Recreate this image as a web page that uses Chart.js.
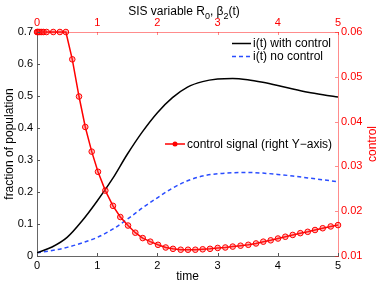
<!DOCTYPE html>
<html>
<head>
<meta charset="utf-8">
<script src="https://cdn.jsdelivr.net/npm/chart.js@4"></script>
<style>
  html, body { margin: 0; padding: 0; background: #fff; }
  #wrap { width: 382px; height: 286px; }
</style>
</head>
<body>
<div id="wrap"><canvas id="sisChart" width="382" height="286"></canvas></div>
<script>
// time grid for the two i(t) curves
const timeGrid = [0, 0.25, 0.5, 0.75, 1, 1.25, 1.5, 1.75, 2, 2.25, 2.5, 2.75, 3, 3.25, 3.5, 3.75, 4, 4.25, 4.5, 4.75, 5];
const withControl = [0.01, 0.028, 0.058, 0.11, 0.172, 0.24, 0.318, 0.388, 0.448, 0.495, 0.528, 0.545, 0.553, 0.555, 0.551, 0.543, 0.533, 0.522, 0.512, 0.504, 0.497];
const noControl = [0.01, 0.017, 0.027, 0.041, 0.058, 0.083, 0.115, 0.15, 0.182, 0.212, 0.235, 0.25, 0.257, 0.26, 0.261, 0.259, 0.255, 0.25, 0.244, 0.238, 0.232];

// control signal samples (right Y-axis)
const controlTime = [0, 0.01, 0.03, 0.05, 0.08, 0.11, 0.16, 0.27, 0.38, 0.48, 0.586, 0.698, 0.802, 0.909, 1.013, 1.135, 1.262, 1.384, 1.512, 1.633, 1.756, 1.882, 2.01, 2.138, 2.259, 2.387, 2.508, 2.63, 2.752, 2.874, 3.002, 3.128, 3.251, 3.381, 3.51, 3.638, 3.759, 3.882, 4.003, 4.125, 4.248, 4.374, 4.497, 4.618, 4.746, 4.879, 5];
const controlSignal = [0.06, 0.06, 0.06, 0.06, 0.06, 0.06, 0.06, 0.06, 0.06, 0.06, 0.0539, 0.0456, 0.0388, 0.0333, 0.0288, 0.0246, 0.0212, 0.0187, 0.0168, 0.0152, 0.014, 0.0132, 0.0125, 0.0119, 0.0116, 0.0114, 0.0114, 0.0114, 0.0115, 0.0116, 0.0118, 0.0119, 0.0121, 0.0123, 0.0125, 0.0128, 0.0132, 0.0135, 0.0139, 0.0143, 0.0147, 0.0151, 0.0154, 0.0158, 0.0162, 0.0166, 0.0169];

const leftTicks = [0, 0.1, 0.2, 0.3, 0.4, 0.5, 0.6, 0.7];
const rightTicks = [0.01, 0.02, 0.03, 0.04, 0.05, 0.06];
const timeTicks = [0, 1, 2, 3, 4, 5];

const RED = '#ff0000';
const RED_AXIS = 'rgba(255,0,0,0.45)';
const BLUE = '#2a4dff';
const FONT = "'Liberation Sans', Arial, sans-serif";

Chart.defaults.font.family = FONT;
Chart.defaults.color = '#000';

function pts(xs, ys) {
    return xs.map((x, i) => ({ x: x, y: ys[i] }));
}

// inward tick marks, legend boxes and the subscripted top title
const decorPlugin = {
    id: 'decor',
    afterDraw(chart) {
        const ctx = chart.ctx;
        const a = chart.chartArea;
        const s = chart.scales;
        ctx.save();
        ctx.lineWidth = 1;

        ctx.strokeStyle = '#555';
        timeTicks.forEach(t => {
            const x = Math.round(s.x.getPixelForValue(t)) + 0.5;
            ctx.beginPath(); ctx.moveTo(x, a.bottom); ctx.lineTo(x, a.bottom - 3); ctx.stroke();
        });
        leftTicks.forEach(v => {
            const y = Math.round(s.y.getPixelForValue(v)) + 0.5;
            ctx.beginPath(); ctx.moveTo(a.left, y); ctx.lineTo(a.left + 3, y); ctx.stroke();
        });
        ctx.strokeStyle = RED_AXIS;
        timeTicks.forEach(t => {
            const x = Math.round(s.x2.getPixelForValue(t)) + 0.5;
            ctx.beginPath(); ctx.moveTo(x, a.top); ctx.lineTo(x, a.top + 3); ctx.stroke();
        });
        rightTicks.forEach(v => {
            const y = Math.round(s.y2.getPixelForValue(v)) + 0.5;
            ctx.beginPath(); ctx.moveTo(a.right, y); ctx.lineTo(a.right - 3, y); ctx.stroke();
        });

        // legend
        ctx.font = '12px ' + FONT;
        ctx.textBaseline = 'middle';
        ctx.textAlign = 'left';
        ctx.lineWidth = 1.5;
        ctx.strokeStyle = '#000';
        ctx.beginPath(); ctx.moveTo(232, 43.5); ctx.lineTo(251, 43.5); ctx.stroke();
        ctx.fillStyle = '#000';
        ctx.fillText('i(t) with control', 253, 43.5);
        ctx.strokeStyle = BLUE;
        ctx.setLineDash([4, 3]);
        ctx.beginPath(); ctx.moveTo(232, 56.5); ctx.lineTo(251, 56.5); ctx.stroke();
        ctx.setLineDash([]);
        ctx.fillText('i(t) no control', 253, 56.5);

        ctx.strokeStyle = RED;
        ctx.lineWidth = 1.5;
        ctx.beginPath(); ctx.moveTo(165, 144); ctx.lineTo(185, 144); ctx.stroke();
        ctx.fillStyle = RED;
        ctx.beginPath(); ctx.arc(175, 144, 2.5, 0, Math.PI * 2); ctx.fill();
        ctx.fillStyle = '#000';
        ctx.fillText('control signal (right Y\u2212axis)', 187, 144.5);

        // right axis title
        ctx.save();
        ctx.translate(373, (a.top + a.bottom) / 2);
        ctx.rotate(-Math.PI / 2);
        ctx.textAlign = 'center';
        ctx.fillStyle = RED;
        ctx.fillText('control', 0, 0);
        ctx.restore();

        // top title with subscripts
        const parts = [['SIS variable R', 0], ['0', 1], [', \u03b2', 0], ['2', 1], ['(t)', 0]];
        let w = 0;
        parts.forEach(p => {
            ctx.font = (p[1] ? '9px ' : '12px ') + FONT;
            w += ctx.measureText(p[0]).width;
        });
        let x = 184 - w / 2;
        ctx.textBaseline = 'alphabetic';
        ctx.fillStyle = '#000';
        parts.forEach(p => {
            ctx.font = (p[1] ? '9px ' : '12px ') + FONT;
            ctx.fillText(p[0], x, p[1] ? 19 : 15);
            x += ctx.measureText(p[0]).width;
        });
        ctx.restore();
    }
};

new Chart(document.getElementById('sisChart'), {
    type: 'line',
    data: {
        datasets: [
            {
                label: 'control signal (right Y-axis)',
                data: pts(controlTime, controlSignal),
                xAxisID: 'x2',
                yAxisID: 'y2',
                borderColor: RED,
                borderWidth: 1.5,
                pointRadius: 2.8,
                pointBorderWidth: 1,
                pointBorderColor: RED,
                pointBackgroundColor: 'rgba(255,60,60,0.35)',
                tension: 0,
                clip: false
            },
            {
                label: 'i(t) with control',
                data: pts(timeGrid, withControl),
                xAxisID: 'x',
                yAxisID: 'y',
                borderColor: '#000',
                borderWidth: 1.5,
                pointRadius: 0,
                cubicInterpolationMode: 'monotone'
            },
            {
                label: 'i(t) no control',
                data: pts(timeGrid, noControl),
                xAxisID: 'x',
                yAxisID: 'y',
                borderColor: BLUE,
                borderWidth: 1.5,
                borderDash: [4, 3],
                pointRadius: 0,
                cubicInterpolationMode: 'monotone'
            }
        ]
    },
    options: {
        responsive: false,
        animation: false,
        layout: { padding: 0 },
        plugins: { legend: { display: false }, tooltip: { enabled: false } },
        scales: {
            x: {
                type: 'linear', position: 'bottom', min: 0, max: 5,
                ticks: { stepSize: 1, padding: 3, font: { size: 11 }, color: '#000' },
                grid: { display: false, drawTicks: false },
                border: { color: '#666' },
                title: { display: true, text: 'time', font: { size: 12 }, padding: { top: 0, bottom: 2 } },
                afterFit: s => { s.height = 30; }
            },
            x2: {
                type: 'linear', position: 'top', min: 0, max: 5,
                ticks: { stepSize: 1, padding: 2, font: { size: 11 }, color: RED },
                grid: { display: false, drawTicks: false },
                border: { color: RED_AXIS },
                afterFit: s => { s.height = 32; }
            },
            y: {
                position: 'left', min: 0, max: 0.7,
                ticks: { stepSize: 0.1, padding: 4, font: { size: 11 }, color: '#000', callback: v => String(+v.toFixed(2)) },
                grid: { display: false, drawTicks: false },
                border: { color: '#666' },
                title: { display: true, text: 'fraction of population', font: { size: 12 }, padding: { top: 2, bottom: 0 } },
                afterFit: s => { s.width = 37; }
            },
            y2: {
                position: 'right', min: 0.01, max: 0.06,
                ticks: { stepSize: 0.01, padding: 3, font: { size: 11 }, color: RED, callback: v => String(+v.toFixed(2)) },
                grid: { display: false, drawTicks: false },
                border: { color: RED_AXIS },
                afterFit: s => { s.width = 44; }
            }
        }
    },
    plugins: [decorPlugin]
});
</script>
</body>
</html>
